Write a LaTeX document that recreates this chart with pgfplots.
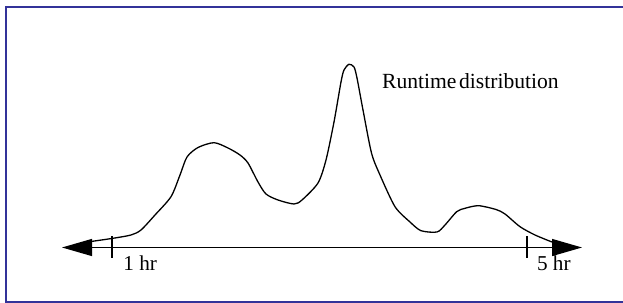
\documentclass[border=0pt]{standalone}
\usepackage{pgfplots}
\pgfplotsset{compat=1.18}
\usepackage{fontspec}
\setmainfont{Liberation Serif}
\usetikzlibrary{arrows.meta}
\definecolor{borderblue}{HTML}{333399}
\begin{document}
\begin{tikzpicture}
\begin{axis}[
  scale only axis, width=311.5pt, height=151.5pt,
  xmin=0, xmax=623, ymin=0, ymax=303, y dir=reverse,
  hide axis, clip=false,
]
\path[use as bounding box] (axis cs:0,0) rectangle (axis cs:623,303);
% border
\draw[borderblue, line width=1pt] (axis cs:640,7.5) -- (axis cs:6,7.5) -- (axis cs:6,302) -- (axis cs:640,302);
% axis with arrows
\addplot[black, line width=0.6pt, {Triangle[length=15pt,width=8.5pt]}-{Triangle[length=15pt,width=8.5pt]}]
  coordinates {(62,247.5) (582,247.5)};
% ticks
\addplot[black, line width=0.55pt] coordinates {(112,236.5) (112,258)};
\addplot[black, line width=0.55pt] coordinates {(527,236.5) (527,258)};
% curve
\addplot[black, line width=0.65pt, smooth, tension=0.45] coordinates {
(91,241.5) (113,238.3) (131,235) (141,230) (155,215) (171,196.7) (180,175)
(187,157) (198,147.5) (214,142.7) (228,148) (240,155) (248,163) (258,182)
(266,194) (278,200) (294,204) (302,200) (318,183) (326,160) (334,122)
(341,82) (344,70) (349,64.3) (354,67) (357,78) (363,110) (371.5,153)
(380,175) (395,206.7) (410,222) (421,230.7) (437,232) (445,225)
(456.7,211.7) (465,208.3) (478.5,205.7) (496,209.5) (505,214)
(520,226.7) (535,235) (552,242)
};
\node[anchor=base west, inner sep=0pt, font=\fontsize{10.8pt}{12pt}\selectfont] at (axis cs:381.7,88.3) {Runtime\hspace{0.12em}distribution};
\node[anchor=base west, inner sep=0pt, font=\fontsize{10.6pt}{12pt}\selectfont] at (axis cs:123,270.7) {1 hr};
\node[anchor=base west, inner sep=0pt, font=\fontsize{10.6pt}{12pt}\selectfont] at (axis cs:536.7,271) {5 hr};
\end{axis}
\end{tikzpicture}
\end{document}
